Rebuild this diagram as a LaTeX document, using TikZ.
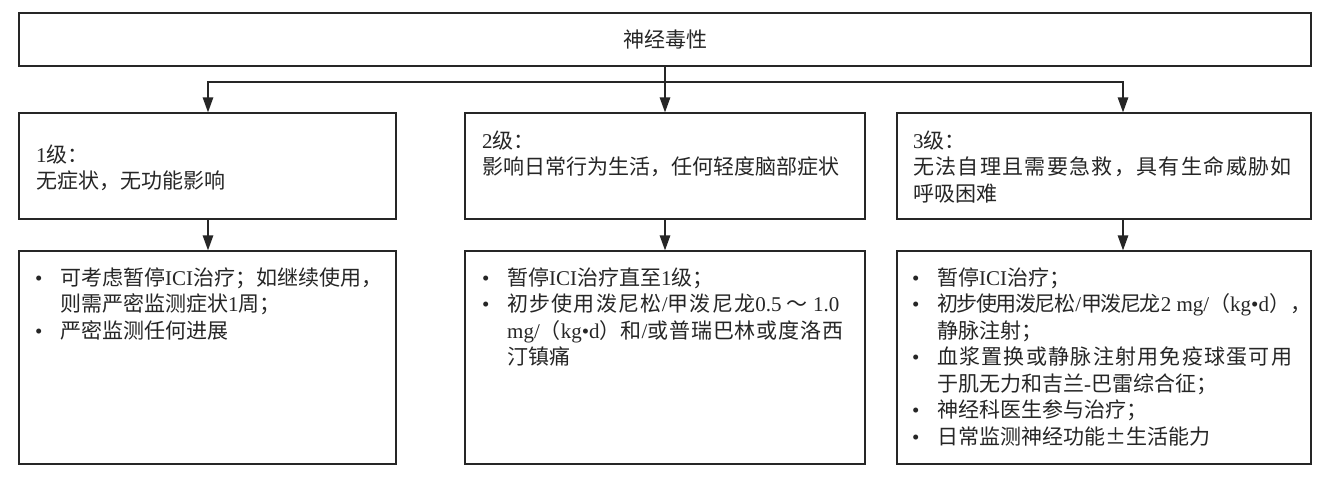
\documentclass[tikz,border=0pt]{standalone}
\usepackage{fontspec}
\setmainfont{Noto Sans CJK SC}
\newfontfamily\lat{Liberation Serif}
\usetikzlibrary{arrows.meta}
\newcommand\en[1]{{\lat #1}}
\newcommand\ls[2]{{\addfontfeature{LetterSpace=#1}#2}}
\newcommand\itm{\par\hangindent=25pt\hangafter=1\noindent\makebox[25pt][l]{\en{•}}}
\newcommand\txt[1]{\parbox[t]{440pt}{\fontsize{21}{26.5}\selectfont\parindent=0pt\parskip=0pt #1}}
\tikzset{
  box/.style={draw=black!85, line width=1.3pt, inner sep=0pt},
  ln/.style={draw=black!85, line width=1.3pt},
  arr/.style={ln, -{Triangle[length=15pt,width=10.5pt]}},
  tx/.style={anchor=base west, inner sep=0pt, text=black!85},
}
\begin{document}
\begin{tikzpicture}[x=1pt,y=-1pt]
\useasboundingbox[fill=white] (0,0) rectangle (1327,488);
% boxes
\node[box, minimum width=1292pt, minimum height=53pt, text=black!85, font=\fontsize{21}{24}\selectfont] (top) at (665,39.5) {神经毒性};
\node[box, minimum width=377pt, minimum height=106pt] (L1) at (207.5,166) {};
\node[box, minimum width=400pt, minimum height=106pt] (L2) at (665,166) {};
\node[box, minimum width=414pt, minimum height=106pt] (L3) at (1104,166) {};
\node[box, minimum width=377pt, minimum height=213pt] (B1) at (207.5,357.5) {};
\node[box, minimum width=400pt, minimum height=213pt] (B2) at (665,357.5) {};
\node[box, minimum width=414pt, minimum height=213pt] (B3) at (1104,357.5) {};
% texts
\node[tx] (t1) at (36,162) {\txt{\en{1}级：\\无症状，无功能影响}};
\node[tx] (t2) at (482,148) {\txt{\en{2}级：\\影响日常行为生活，任何轻度脑部症状}};
\node[tx] (t3) at (913,148) {\txt{\en{3}级：\\\ls{6.4}{无法自理且需要急救，具有生命威胁如}\\呼吸困难}};
\node[tx] (a1) at (35,285) {\txt{\itm 可考虑暂停\en{ICI}治疗；如继续使用，\\则需严密监测症状\en{1}周；\itm 严密监测任何进展}};
\node[tx] (a2) at (482,285) {\txt{\itm 暂停\en{ICI}治疗直至\en{1}级；\itm \ls{6}{初步使用泼尼松\en{/}甲泼尼龙\en{0.5 }～\en{ 1.0}}\\\en{mg/}（\en{kg•d}）\ls{4}{和\en{/}或普瑞巴林或度洛西}\\汀镇痛}};
\node[tx] (a3) at (912,285) {\txt{\itm 暂停\en{ICI}治疗；\itm \ls{-7}{初步使用泼尼松\en{/}甲泼尼龙}\en{2 mg/}（\en{kg•d}），\\静脉注射；\itm \ls{6}{血浆置换或静脉注射用免疫球蛋可用}\\于肌无力和吉兰\en{-}巴雷综合征；\itm 神经科医生参与治疗；\itm 日常监测神经功能±生活能力}};
% connectors
\coordinate (j1) at (208,82);
\coordinate (j3) at (1123,82);
\draw[ln, line cap=rect] (j1) -- (j3);
\draw[arr] (top) -- (L2);
\draw[arr] (j1) -- (j1 |- L1.north);
\draw[arr] (j3) -- (j3 |- L3.north);
\draw[arr] (j1 |- L1.south) -- (j1 |- B1.north);
\draw[arr] (L2) -- (B2);
\draw[arr] (j3 |- L3.south) -- (j3 |- B3.north);
\end{tikzpicture}
\end{document}
